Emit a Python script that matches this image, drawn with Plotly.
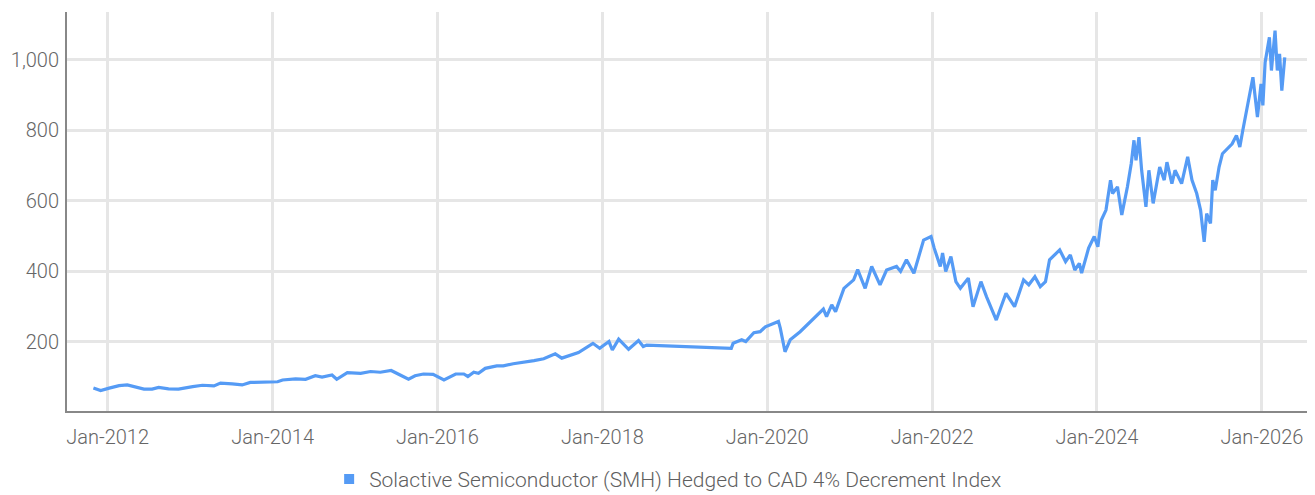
import plotly.graph_objects as go

series_name = "Solactive Semiconductor (SMH) Hedged to CAD 4% Decrement Index"

dates = [
    "2011-10-30", "2011-12-01", "2012-01-08", "2012-02-21", "2012-03-28",
    "2012-05-05", "2012-06-10", "2012-07-16", "2012-08-14", "2012-09-27",
    "2012-11-10", "2013-01-12", "2013-02-24", "2013-04-16", "2013-05-15",
    "2013-07-06", "2013-08-19", "2013-09-24", "2013-12-02", "2014-01-23",
    "2014-02-14", "2014-04-13", "2014-05-27", "2014-07-09", "2014-08-08",
    "2014-09-21", "2014-10-12", "2014-11-28", "2015-01-26", "2015-03-11",
    "2015-04-23", "2015-06-10", "2015-07-20", "2015-08-26", "2015-09-24",
    "2015-10-31", "2015-12-13", "2016-01-30", "2016-03-22", "2016-04-27",
    "2016-05-15", "2016-06-10", "2016-07-01", "2016-07-31", "2016-09-20",
    "2016-10-19", "2016-12-02", "2017-01-19", "2017-03-04", "2017-04-16",
    "2017-06-06", "2017-07-05", "2017-08-11", "2017-09-17", "2017-11-20",
    "2017-12-20", "2018-01-30", "2018-02-14", "2018-03-14", "2018-04-27",
    "2018-06-10", "2018-07-01", "2018-07-16", "2019-07-26", "2019-08-03",
    "2019-09-10", "2019-09-28", "2019-11-03", "2019-12-01", "2019-12-24",
    "2020-02-20", "2020-02-28", "2020-03-20", "2020-04-12", "2020-05-26",
    "2020-07-24", "2020-09-06", "2020-09-20", "2020-10-13", "2020-10-30",
    "2020-12-06", "2021-01-18", "2021-02-05", "2021-03-10", "2021-04-08",
    "2021-05-15", "2021-06-13", "2021-07-27", "2021-08-14", "2021-09-09",
    "2021-10-12", "2021-11-24", "2021-12-27", "2022-01-10", "2022-02-06",
    "2022-02-16", "2022-03-02", "2022-03-25", "2022-04-16", "2022-05-06",
    "2022-06-10", "2022-07-01", "2022-08-05", "2022-08-30", "2022-10-12",
    "2022-11-24", "2023-01-01", "2023-02-10", "2023-03-05", "2023-04-01",
    "2023-04-25", "2023-05-18", "2023-06-05", "2023-07-20", "2023-08-15",
    "2023-09-05", "2023-09-25", "2023-10-15", "2023-10-25", "2023-11-25",
    "2023-12-20", "2024-01-05", "2024-01-20", "2024-02-10", "2024-03-01",
    "2024-03-10", "2024-04-01", "2024-04-20", "2024-05-15", "2024-06-01",
    "2024-06-13", "2024-06-22", "2024-07-05", "2024-07-17", "2024-08-05",
    "2024-08-18", "2024-09-06", "2024-10-05", "2024-10-25", "2024-11-06",
    "2024-11-28", "2024-12-12", "2025-01-10", "2025-02-06", "2025-02-25",
    "2025-03-18", "2025-04-04", "2025-04-20", "2025-05-01", "2025-05-18",
    "2025-05-28", "2025-06-08", "2025-06-25", "2025-07-10", "2025-08-22",
    "2025-09-10", "2025-09-25", "2025-10-08", "2025-10-22", "2025-11-08",
    "2025-11-22", "2025-12-12", "2025-12-28", "2026-01-05", "2026-01-15",
    "2026-02-03", "2026-02-12", "2026-02-28", "2026-03-10", "2026-03-20",
    "2026-03-30", "2026-04-12",
]

values = [
    69, 62, 69, 76, 78,
    73, 66, 66, 71, 67,
    66, 73, 77, 75, 83,
    81, 78, 85, 85, 87,
    92, 95, 94, 104, 100,
    106, 94, 113, 111, 116,
    114, 119, 106, 94, 104,
    109, 108, 92, 109, 109,
    102, 114, 111, 125, 132,
    132, 138, 142, 147, 152,
    166, 154, 163, 170, 196,
    182, 201, 177, 208, 179,
    204, 187, 191, 182, 196,
    206, 201, 226, 229, 243,
    258, 239, 172, 206, 229,
    267, 293, 272, 305, 286,
    352, 376, 405, 352, 414,
    362, 404, 414, 400, 433,
    395, 489, 499, 466, 414,
    452, 400, 442, 371, 352,
    381, 300, 371, 328, 262,
    338, 300, 376, 362, 385,
    357, 371, 433, 461, 428,
    447, 404, 423, 395, 466,
    499, 470, 545, 574, 659,
    621, 640, 560, 640, 706,
    772, 715, 781, 687, 583,
    687, 593, 696, 659, 710,
    649, 687, 649, 725, 659,
    621, 574, 484, 564, 536,
    659, 630, 696, 734, 762,
    786, 753, 800, 847, 894,
    951, 838, 932, 871, 993,
    1064, 970, 1083, 970, 1017,
    913, 1007,
]

y_ticks = [200, 400, 600, 800, 1000]

line_color = "#559bf5"
font_family = "Roboto, sans-serif"

fig = go.Figure()
fig.add_trace(go.Scatter(
    x=dates, y=values, mode="lines",
    line=dict(color=line_color, width=3.2),
    showlegend=False, name=series_name,
))
fig.add_trace(go.Scatter(
    x=[None], y=[None], mode="markers",
    marker=dict(symbol="square", size=10, color=line_color),
    name=series_name, showlegend=True,
))

# the page adds an 8px body margin, so the figure is sized to fit the window
fig.update_layout(
    width=1307, height=487,
    margin=dict(l=59, r=7, t=4, b=84, autoexpand=False),
    paper_bgcolor="white", plot_bgcolor="white",
    font=dict(family=font_family, color="#666666", size=20, weight=300),
    legend=dict(orientation="h", x=0.484, xanchor="center", y=-0.12, yanchor="top",
                font=dict(family=font_family, size=21, color="#5f5f5f", weight=300),
                itemwidth=30, tracegroupgap=0),
)
fig.update_xaxes(
    type="date", range=["2011-07-05", "2026-07-24"],
    tick0="2012-01-01", dtick="M24", tickformat="%b-%Y",
    showgrid=True, gridcolor="#e6e6e6", gridwidth=2.5,
    showline=True, linecolor="#888888", linewidth=2,
    ticks="outside", ticklen=7, tickcolor="rgba(0,0,0,0)",
    tickfont=dict(family=font_family, size=20, color="#666666", weight=300),
    zeroline=False,
)
fig.update_yaxes(
    range=[4, 1136], tickvals=y_ticks, tickformat=",",
    showgrid=True, gridcolor="#e6e6e6", gridwidth=2.5,
    showline=True, linecolor="#888888", linewidth=2,
    ticks="outside", ticklen=2, tickcolor="rgba(0,0,0,0)",
    tickfont=dict(family=font_family, size=20, color="#666666", weight=300),
    zeroline=False,
)

fig.write_html("out.html")
